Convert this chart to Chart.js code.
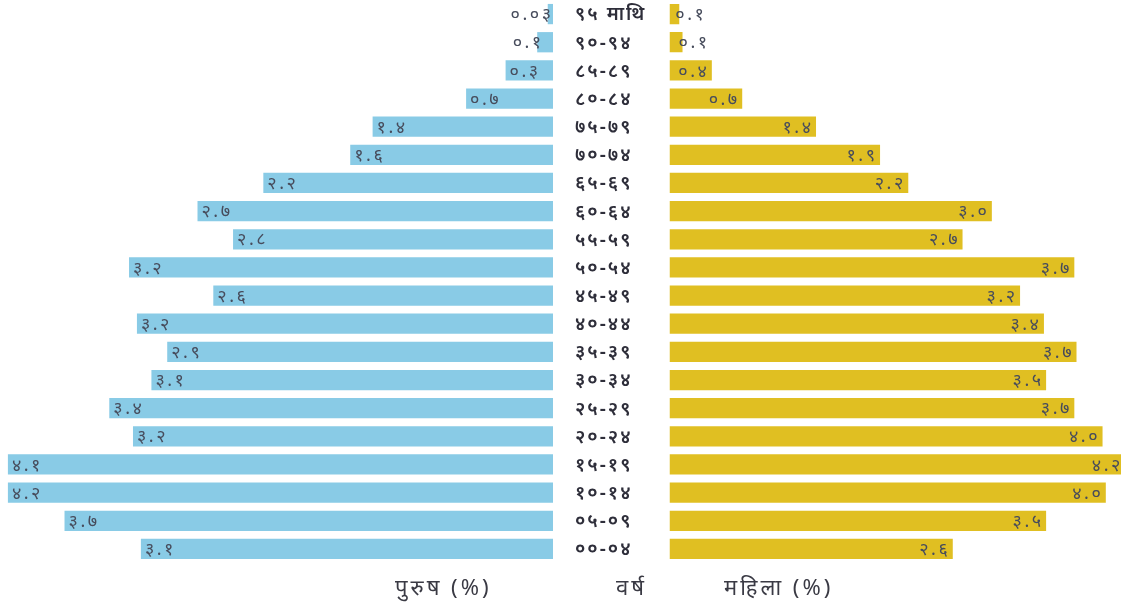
<!DOCTYPE html>
<html>
<head>
<meta charset="utf-8">
<script src="https://cdn.jsdelivr.net/npm/chart.js@4"></script>
<style>
  body { margin: 0; background: #fff; width: 1121px; height: 604px; overflow: hidden; position: relative; }
  #male-wrap { position: absolute; left: 0; top: 0; width: 553px; height: 604px; }
  #female-wrap { position: absolute; left: 553px; top: 0; width: 568px; height: 604px; }
  .axis-title { position: absolute; top: 571px; font-family: "Noto Sans", sans-serif; font-size: 22px; letter-spacing: 3px; color: #3a3a44; white-space: nowrap; }
</style>
</head>
<body>
<div id="male-wrap"><canvas id="male-chart"></canvas></div>
<div id="female-wrap"><canvas id="female-chart"></canvas></div>
<div class="axis-title" style="left:395px">पुरुष (%)</div>
<div class="axis-title" style="left:616px">वर्ष</div>
<div class="axis-title" style="left:724px">महिला (%)</div>
<script>
// age groups, top to bottom
const ageGroups = ["९५ माथि", "९०-९४", "८५-८९", "८०-८४", "७५-७९", "७०-७४", "६५-६९", "६०-६४",
  "५५-५९", "५०-५४", "४५-४९", "४०-४४", "३५-३९", "३०-३४", "२५-२९", "२०-२४", "१५-१९", "१०-१४", "०५-०९", "००-०४"];

// bar lengths as drawn (%)
const maleValues = [0.04, 0.12, 0.36, 0.66, 1.37, 1.54, 2.2, 2.7, 2.43, 3.22, 2.58, 3.16, 2.93, 3.05, 3.37, 3.19, 4.14, 4.14, 3.71, 3.13];
const femaleValues = [0.09, 0.12, 0.39, 0.67, 1.35, 1.94, 2.2, 2.97, 2.7, 3.73, 3.23, 3.45, 3.75, 3.47, 3.73, 3.99, 4.2, 4.02, 3.47, 2.61];

// value labels as printed
const maleLabels = ["०.०३", "०.१", "०.३", "०.७", "१.४", "१.६", "२.२", "२.७", "२.८", "३.२", "२.६", "३.२", "२.९", "३.१", "३.४", "३.२", "४.१", "४.२", "३.७", "३.१"];
const femaleLabels = ["०.१", "०.१", "०.४", "०.७", "१.४", "१.९", "२.२", "३.०", "२.७", "३.७", "३.२", "३.४", "३.७", "३.५", "३.७", "४.०", "४.२", "४.०", "३.५", "२.६"];

const FONT = '"Noto Sans", sans-serif';

// draws value text near the outer end of each bar
function valueLabels(texts, side) {
  return {
    id: "valueLabels",
    afterDatasetsDraw(chart) {
      const ctx = chart.ctx;
      const area = chart.chartArea;
      const meta = chart.getDatasetMeta(0);
      ctx.save();
      ctx.font = "18px " + FONT;
      ctx.letterSpacing = "2.5px";
      ctx.fillStyle = "#474c5c";
      ctx.textBaseline = "middle";
      ctx.textAlign = "left";
      meta.data.forEach((bar, i) => {
        const t = texts[i];
        const w = ctx.measureText(t).width - 2.5;
        const len = Math.abs(bar.x - bar.base);
        let x;
        if (side === "left") {
          if (len < w + 12) x = Math.min(bar.x + 4 - w, area.right - w - 2);
          else x = bar.x + 4;
        } else {
          x = len < w + 12 ? bar.x - 4 : bar.x - 5 - w;
        }
        ctx.fillText(t, x, bar.y + 1);
      });
      ctx.restore();
    }
  };
}

// age group names in the gap, placed on the category scale
const ageNames = {
  id: "ageNames",
  afterDraw(chart) {
    const ctx = chart.ctx;
    const y = chart.scales.y;
    ctx.save();
    ctx.font = "600 19px " + FONT;
    ctx.letterSpacing = "2px";
    ctx.fillStyle = "#2e2e3a";
    ctx.textBaseline = "middle";
    ctx.textAlign = "left";
    chart.data.labels.forEach((lab, i) => {
      ctx.fillText(lab, 22, y.getPixelForTick(i) + 1);
    });
    ctx.restore();
  }
};

new Chart(document.getElementById("male-chart"), {
  type: "bar",
  data: {
    labels: ageGroups,
    datasets: [{ data: maleValues, backgroundColor: "#89cbe6", barPercentage: 0.72, categoryPercentage: 1 }]
  },
  options: {
    indexAxis: "y",
    responsive: true,
    maintainAspectRatio: false,
    animation: false,
    layout: { padding: { top: 0, bottom: 41, left: 0, right: 0 } },
    plugins: { legend: { display: false }, tooltip: { enabled: false } },
    scales: {
      x: { display: false, reverse: true, min: 0, max: 4.2 },
      y: { display: false }
    }
  },
  plugins: [valueLabels(maleLabels, "left")]
});

new Chart(document.getElementById("female-chart"), {
  type: "bar",
  data: {
    labels: ageGroups,
    datasets: [{ data: femaleValues, backgroundColor: "#e0bf22", barPercentage: 0.72, categoryPercentage: 1 }]
  },
  options: {
    indexAxis: "y",
    responsive: true,
    maintainAspectRatio: false,
    animation: false,
    layout: { padding: { top: 0, bottom: 41, left: 0, right: 0 } },
    plugins: { legend: { display: false }, tooltip: { enabled: false } },
    scales: {
      x: { display: false, min: 0, max: 4.16 },
      y: {
        grid: { display: false, drawTicks: false },
        border: { display: false },
        ticks: { display: false },
        afterFit(scale) { scale.width = 116.5; }
      }
    }
  },
  plugins: [valueLabels(femaleLabels, "right"), ageNames]
});
</script>
</body>
</html>
